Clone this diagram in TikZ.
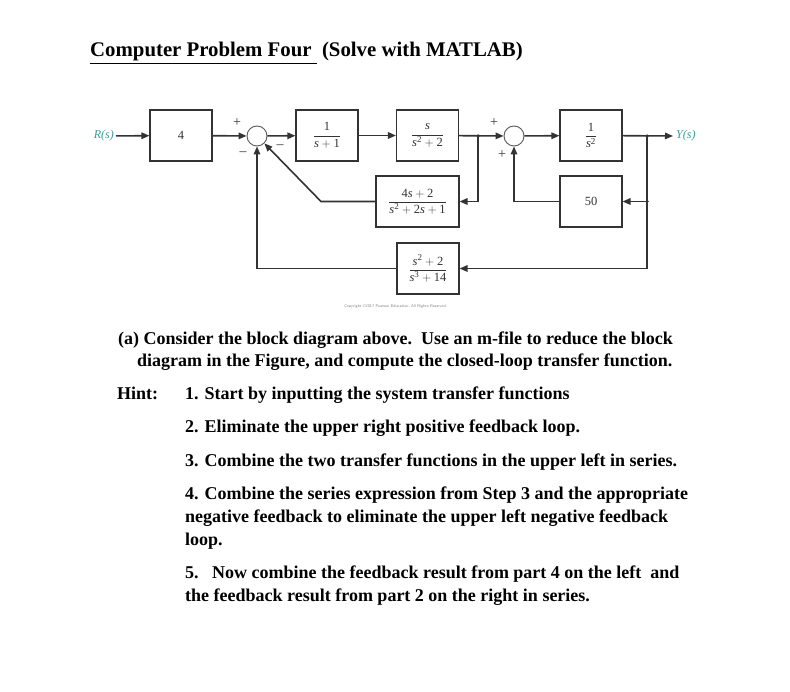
\documentclass[tikz,border=0pt]{standalone}
\usepackage{fontspec}
\setmainfont{Liberation Serif}
\usetikzlibrary{arrows.meta}
\definecolor{ln}{HTML}{333333}
\definecolor{tealc}{HTML}{3A9E9E}
\newcommand\sv{\mbox{\itshape s}}
\newcommand\nm[1]{\mbox{#1}}
\newcommand\ex[1]{^{\mbox{\fontsize{9}{9}\selectfont #1}}}
\begin{document}
\begin{tikzpicture}[x=1pt,y=-1pt,
 blk/.style={draw=ln, line width=1.1pt, minimum width=62pt, minimum height=51pt, inner sep=0pt, font=\fontsize{12.5}{14}\selectfont, text=ln},
 sumc/.style={circle, draw=gray!70!black, line width=0.9pt, minimum size=20pt, inner sep=0pt},
 con/.style={draw=ln, line width=1.6pt},
 arr/.style={con, -{Triangle[length=8pt,width=6.5pt]}},
 sgn/.style={font=\fontsize{14}{14}\selectfont, text=ln, inner sep=0pt},
 dot/.style={circle, fill=ln, minimum size=3.5pt, inner sep=0pt},
 lbl/.style={font=\fontsize{12}{14}\selectfont\itshape, text=tealc, inner sep=2pt},
 para/.style={anchor=base west, inner sep=0pt, font=\fontsize{18}{20}\selectfont\bfseries, text=black}]
\useasboundingbox[fill=white] (0,0) rectangle (790,692);

% title
\node[para, font=\fontsize{20.8}{24}\selectfont\bfseries] (title) at (90,57) {\underline{Computer Problem Four\ }\ (Solve with MATLAB)};

% diagram
\node[lbl, anchor=east] (R) at (116,136) {R(s)};
\node[blk] (K) at (181,135.5) {4};
\node[sumc] (S1) at (257,136) {};
\node[blk] (G1) at (327,135.5) {$\displaystyle\frac{\nm{1}}{\sv+\nm{1}}$};
\node[blk] (G2) at (427.5,135.5) {$\displaystyle\frac{\sv}{\sv\ex{2}+\nm{2}}$};
\coordinate (b1) at (478,136);
\node[sumc] (S2) at (514,136) {};
\node[blk] (G3) at (591,135.5) {$\displaystyle\frac{\nm{1}}{\sv\ex{2}}$};
\coordinate (b2) at (647,136);
\coordinate (j2) at (647,201.5);
\coordinate (Yend) at (673,136);
\node[lbl, anchor=west] (Y) at (674,136) {Y(s)};
\node[blk] (H50) at (591,201.5) {50};
\node[blk, minimum width=83pt] (H1) at (417.5,201.5) {$\displaystyle\frac{\nm{4}\sv+\nm{2}}{\sv\ex{2}+\nm{2}\sv+\nm{1}}$};
\node[blk] (H2) at (428,268.5) {$\displaystyle\frac{\sv\ex{2}+\nm{2}}{\sv\ex{3}+\nm{14}}$};
\coordinate (c1) at (321,201.5);

\node[sgn] (p1) at (237,123) {+};
\node[sgn] (m1) at (243,154) {\textendash};
\node[sgn] (m2) at (280,147) {\textendash};
\node[sgn] (p2) at (494,123) {+};
\node[sgn] (p3) at (502,155) {+};

\draw[arr] (R) -- (K);
\draw[arr] (K) -- (S1);
\draw[arr] (S1) -- (G1);
\draw[arr] (G1) -- (G2);
\draw[arr] (G2) -- (S2);
\draw[arr] (S2) -- (G3);
\draw[arr] (G3) -- (Yend);
\draw[arr] (b1) |- (H1.east);
\draw[arr] (H1.west) -- (c1) -- (S1.south east);
\draw[arr] (b2) -- (j2) -- (H50.east);
\draw[arr] (H50.west) -| (S2.south);
\draw[arr] (j2) |- (H2.east);
\draw[arr] (H2.west) -| (S1.south);
\node[dot] (d1) at (b1) {};
\node[dot] (d2) at (b2) {};
\node[dot] (d3) at (j2) {};

\node[font=\fontsize{4}{4}\selectfont\sffamily, text=gray] (copy) at (395,307) {Copyright \textcopyright 2017 Pearson Education, All Rights Reserved};

% text
\node[para] (a1) at (118,345) {(a) Consider the block diagram above.\ \ Use an m-file to reduce the block};
\node[para] (a2) at (137,367) {diagram in the Figure, and compute the closed-loop transfer function.};
\node[para] (hint) at (117,400) {Hint:};
\node[para] (h1) at (185,400) {1. Start by inputting the system transfer functions};
\node[para] (h2) at (185,433) {2. Eliminate the upper right positive feedback loop.};
\node[para] (h3) at (185,467) {3. Combine the two transfer functions in the upper left in series.};
\node[para] (h4a) at (185,499) {4. Combine the series expression from Step 3 and the appropriate};
\node[para] (h4b) at (185,522) {negative feedback to eliminate the upper left negative feedback};
\node[para] (h4c) at (185,545) {loop.};
\node[para] (h5a) at (185,578) {5.\ \ \ Now combine the feedback result from part 4 on the left\ \ and};
\node[para] (h5b) at (185,601) {the feedback result from part 2 on the right in series.};
\end{tikzpicture}
\end{document}
